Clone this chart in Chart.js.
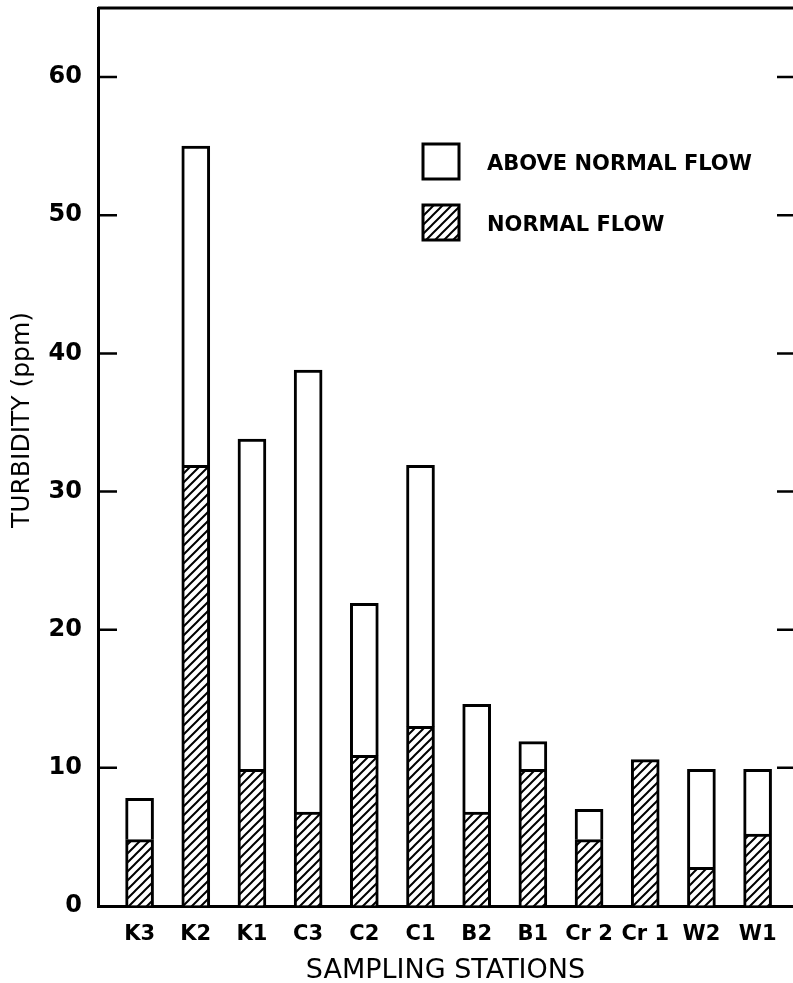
<!DOCTYPE html>
<html lang="en">
<head>
  <meta charset="UTF-8" />
  <title>Turbidity by Sampling Station</title>
  <script src="https://cdn.jsdelivr.net/npm/chart.js"></script>
  <style>
    html, body {
      margin: 0;
      padding: 0;
      background: #fff;
      overflow: hidden;
    }

    .chart-container {
      width: 793px;
      height: 983px;
    }
  </style>
</head>
<body>
  <div class="chart-container">
    <canvas id="turbidityChart"></canvas>
  </div>

  <script>
    // values (ppm)
    const stations = ['K3', 'K2', 'K1', 'C3', 'C2', 'C1', 'B2', 'B1', 'Cr 2', 'Cr 1', 'W2', 'W1'];
    const totalTurbidity = [7.8, 55.0, 33.8, 38.8, 21.9, 31.9, 14.6, 11.9, 7.0, 10.6, 9.9, 9.9];
    const normalTurbidity = [4.8, 31.9, 9.9, 6.8, 10.9, 13.0, 6.8, 9.9, 4.8, 10.6, 2.8, 5.2];
    const yTicks = [0, 10, 20, 30, 40, 50, 60];

    Chart.defaults.font.family = '"DejaVu Sans", sans-serif';
    Chart.defaults.color = '#000';

    function makeHatch() {
      const s = 9;
      const c = document.createElement('canvas');
      c.width = s;
      c.height = s;
      const g = c.getContext('2d');
      g.fillStyle = '#fff';
      g.fillRect(0, 0, s, s);
      g.strokeStyle = '#000';
      g.lineWidth = 2;
      g.beginPath();
      g.moveTo(-2, s + 2); g.lineTo(s + 2, -2);
      g.moveTo(-2, 2); g.lineTo(2, -2);
      g.moveTo(s - 2, s + 2); g.lineTo(s + 2, s - 2);
      g.stroke();
      return g.createPattern(c, 'repeat');
    }

    const hatch = makeHatch();

    // frame top, inward ticks, rotated y title and legend inside the plot
    const framePlugin = {
      id: 'frame',
      afterDraw(chart) {
        const { ctx, chartArea: a, scales: { y } } = chart;
        ctx.save();
        ctx.strokeStyle = '#000';
        ctx.lineWidth = 3;
        ctx.beginPath();
        ctx.moveTo(a.left, a.top);
        ctx.lineTo(a.right, a.top);
        ctx.stroke();

        ctx.lineWidth = 2.5;
        yTicks.forEach(v => {
          if (v === 0) return;
          const py = y.getPixelForValue(v);
          ctx.beginPath();
          ctx.moveTo(a.left, py);
          ctx.lineTo(a.left + 19, py);
          ctx.moveTo(a.right - 16, py);
          ctx.lineTo(a.right, py);
          ctx.stroke();
        });

        // y axis title
        ctx.save();
        ctx.translate(22, 420);
        ctx.rotate(-Math.PI / 2);
        ctx.fillStyle = '#000';
        ctx.font = '25px "DejaVu Sans"';
        ctx.textAlign = 'center';
        ctx.textBaseline = 'middle';
        ctx.fillText('TURBIDITY (ppm)', 0, 0);
        ctx.restore();

        // legend: above normal first, then normal
        const items = chart.data.datasets.slice().reverse();
        ctx.font = 'bold 21px "DejaVu Sans"';
        ctx.textBaseline = 'middle';
        ctx.textAlign = 'left';
        items.forEach((ds, i) => {
          const bx = 423, by = 144 + i * 61;
          ctx.fillStyle = ds.backgroundColor;
          ctx.fillRect(bx, by, 36, 35);
          ctx.lineWidth = 3;
          ctx.strokeRect(bx, by, 36, 35);
          ctx.fillStyle = '#000';
          ctx.fillText(ds.label, 487, by + 21);
        });
        ctx.restore();
      }
    };

    const ctx = document.getElementById('turbidityChart').getContext('2d');

    new Chart(ctx, {
      type: 'bar',
      data: {
        datasets: [
          {
            label: 'NORMAL FLOW',
            data: stations.map((s, i) => ({ x: i, y: normalTurbidity[i] })),
            backgroundColor: hatch,
            borderColor: '#000',
            borderWidth: 3,
            barThickness: 28
          },
          {
            label: 'ABOVE NORMAL FLOW',
            data: stations.map((s, i) => ({ x: i, y: [normalTurbidity[i], totalTurbidity[i]] })),
            backgroundColor: '#fff',
            borderColor: '#000',
            borderWidth: 3,
            barThickness: 28
          }
        ]
      },
      options: {
        responsive: true,
        maintainAspectRatio: false,
        animation: false,
        layout: {
          padding: { top: 8, right: 0, bottom: 0, left: 0 }
        },
        plugins: {
          legend: { display: false },
          tooltip: { enabled: false }
        },
        scales: {
          x: {
            type: 'linear',
            stacked: true,
            offset: false,
            min: -0.74,
            max: 11.63,
            afterBuildTicks: (scale) => {
              scale.ticks = stations.map((s, i) => ({ value: i }));
            },
            afterFit: (scale) => {
              scale.height = 77;
              scale.paddingLeft = 0;
              scale.paddingRight = 0;
            },
            ticks: {
              autoSkip: false,
              maxRotation: 0,
              padding: 16,
              font: { size: 21, weight: 'bold' },
              callback: (value) => stations[value]
            },
            grid: {
              drawOnChartArea: false,
              drawTicks: false
            },
            border: { display: true, color: '#000', width: 3 },
            title: {
              display: true,
              text: 'SAMPLING STATIONS',
              font: { size: 27 },
              padding: { top: 0, bottom: -4 }
            }
          },
          y: {
            stacked: false,
            min: 0,
            max: 65,
            afterBuildTicks: (scale) => {
              scale.ticks = yTicks.map(v => ({ value: v }));
            },
            afterFit: (scale) => {
              scale.width = 98;
              scale.paddingTop = 0;
              scale.paddingBottom = 0;
            },
            ticks: {
              padding: 16,
              font: { size: 24, weight: 'bold' }
            },
            grid: {
              drawOnChartArea: false,
              drawTicks: false
            },
            border: { display: true, color: '#000', width: 3 }
          }
        }
      },
      plugins: [framePlugin]
    });
  </script>
</body>
</html>
